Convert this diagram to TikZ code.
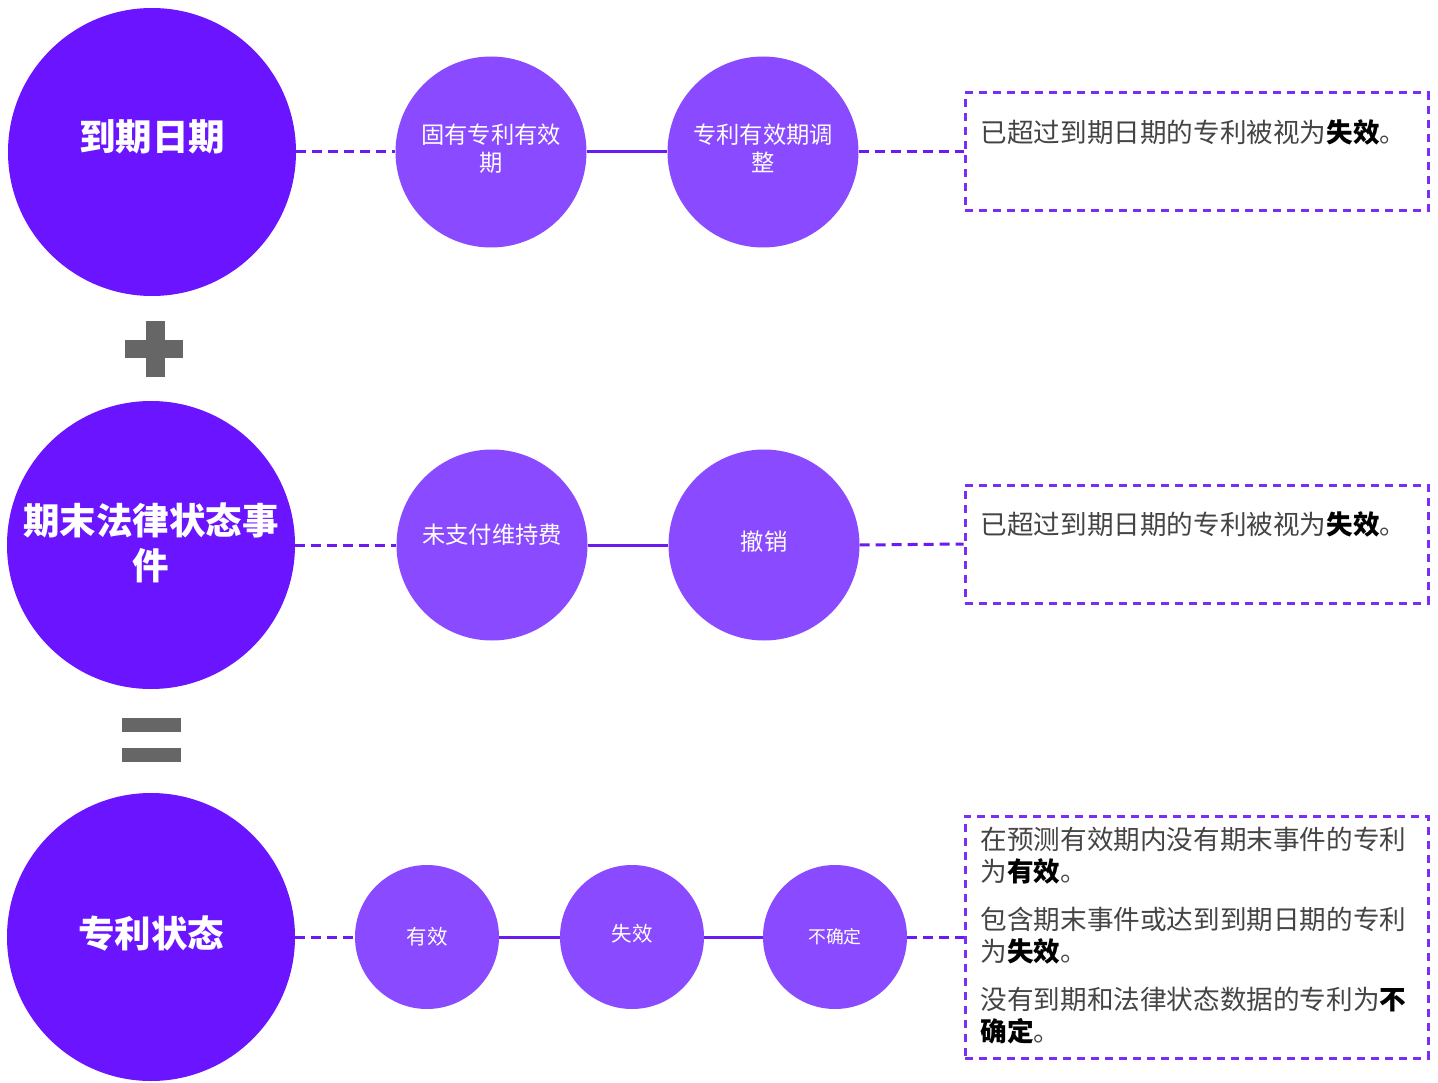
\documentclass[tikz,border=0pt]{standalone}
\usepackage{fontspec}
\setmainfont{Noto Sans CJK SC}
\usetikzlibrary{positioning}
\definecolor{deepviolet}{HTML}{6A14FF}
\definecolor{softviolet}{HTML}{8A4AFF}
\definecolor{lineviolet}{HTML}{6B1BF2}
\definecolor{boxviolet}{HTML}{7A2EF5}
\definecolor{signgray}{HTML}{666666}
\definecolor{textgray}{HTML}{444444}

\tikzset{
  bigdot/.style={circle,fill=deepviolet,inner sep=0,minimum size=288pt,text=white,
    font=\fontsize{36.5}{45}\selectfont\bfseries,align=center},
  middot/.style={circle,fill=softviolet,inner sep=0,minimum size=191pt,text=white,
    font=\fontsize{23.3}{28}\selectfont,align=center},
  smalldot/.style={circle,fill=softviolet,inner sep=0,minimum size=144pt,text=white},
  notebox/.style={draw=boxviolet,line width=3pt,dash pattern=on 8pt off 6pt,
    minimum width=463pt,inner sep=0},
  notetext/.style={anchor=north west,inner sep=0,text=textgray,
    font=\fontsize{26.6}{32}\selectfont,align=left},
  dashlink/.style={lineviolet,line width=3pt,dash pattern=on 10pt off 6pt},
  solidlink/.style={lineviolet,line width=3pt}
}

\begin{document}
\begin{tikzpicture}[x=1pt,y=-1pt]
\useasboundingbox (0,0) rectangle (1438,1083);

% left column
\node[bigdot] (date) at (152,152) {\raisebox{34pt}{到期日期}};
\node[bigdot] (event) at (151,545) {\raisebox{8pt}{期末法律状态事}\\\raisebox{8pt}{件}};
\node[bigdot] (status) at (151,937) {\raisebox{10pt}{专利状态}};

% plus and equals
\fill[signgray] (146,321) rectangle (165,377);
\fill[signgray] (125,340) rectangle (183,358);
\fill[signgray] (122,718) rectangle (181,732);
\fill[signgray] (122,748) rectangle (181,762);

% row 1
\node[middot] (inherent) at (491,152) {\raisebox{8pt}{固有专利有效}\\\raisebox{8pt}{期}};
\node[middot] (adjust) at (763,152) {\raisebox{8pt}{专利有效期调}\\\raisebox{8pt}{整}};
\node[notebox,minimum height=118pt] (boxdate) at (1196.5,152) {};
\node[notetext] (notedate) at ([xshift=17pt,yshift=-28pt]boxdate.north west)
  {已超过到期日期的专利被视为\textbf{\textcolor{black}{失效}}。};
\draw[dashlink] (date.east) -- (inherent.west);
\draw[solidlink] (inherent.east) -- (adjust.west);
\draw[dashlink] (adjust.east) -- (boxdate.west);

% row 2
\node[middot] (unpaid) at (492,545) {\raisebox{22pt}{未支付维持费}};
\node[middot] (revoke) at (764,545) {\raisebox{8pt}{撤销}};
\node[notebox,minimum height=118pt] (boxevent) at (1196.5,544) {};
\node[notetext] (noteevent) at ([xshift=17pt,yshift=-28pt]boxevent.north west)
  {已超过到期日期的专利被视为\textbf{\textcolor{black}{失效}}。};
\draw[dashlink] (event.east) -- (unpaid.west);
\draw[solidlink] (unpaid.east) -- (revoke.west);
\draw[dashlink] (revoke.east) -- (boxevent.west);

% row 3
\node[smalldot,font=\fontsize{20.5}{24}\selectfont] (valid) at (427,937) {有效};
\node[smalldot,font=\fontsize{20.5}{24}\selectfont] (lapsed) at (632,937) {\raisebox{8pt}{失效}};
\node[smalldot,font=\fontsize{17.8}{21}\selectfont] (unknown) at (835,937) {不确定};
\node[notebox,minimum height=242pt] (boxstatus) at (1196.5,937) {};
\node[notetext] (notestatus) at ([xshift=17pt,yshift=-12pt]boxstatus.north west)
  {在预测有效期内没有期末事件的专利\\为\textbf{\textcolor{black}{有效}}。\\[16pt]
   包含期末事件或达到到期日期的专利\\为\textbf{\textcolor{black}{失效}}。\\[16pt]
   没有到期和法律状态数据的专利为\textbf{\textcolor{black}{不}}\\
   \textbf{\textcolor{black}{确定}}。};
\draw[dashlink] (status.east) -- (valid.west);
\draw[solidlink] (valid.east) -- (lapsed.west);
\draw[solidlink] (lapsed.east) -- (unknown.west);
\draw[dashlink] (unknown.east) -- (boxstatus.west);
\end{tikzpicture}
\end{document}
